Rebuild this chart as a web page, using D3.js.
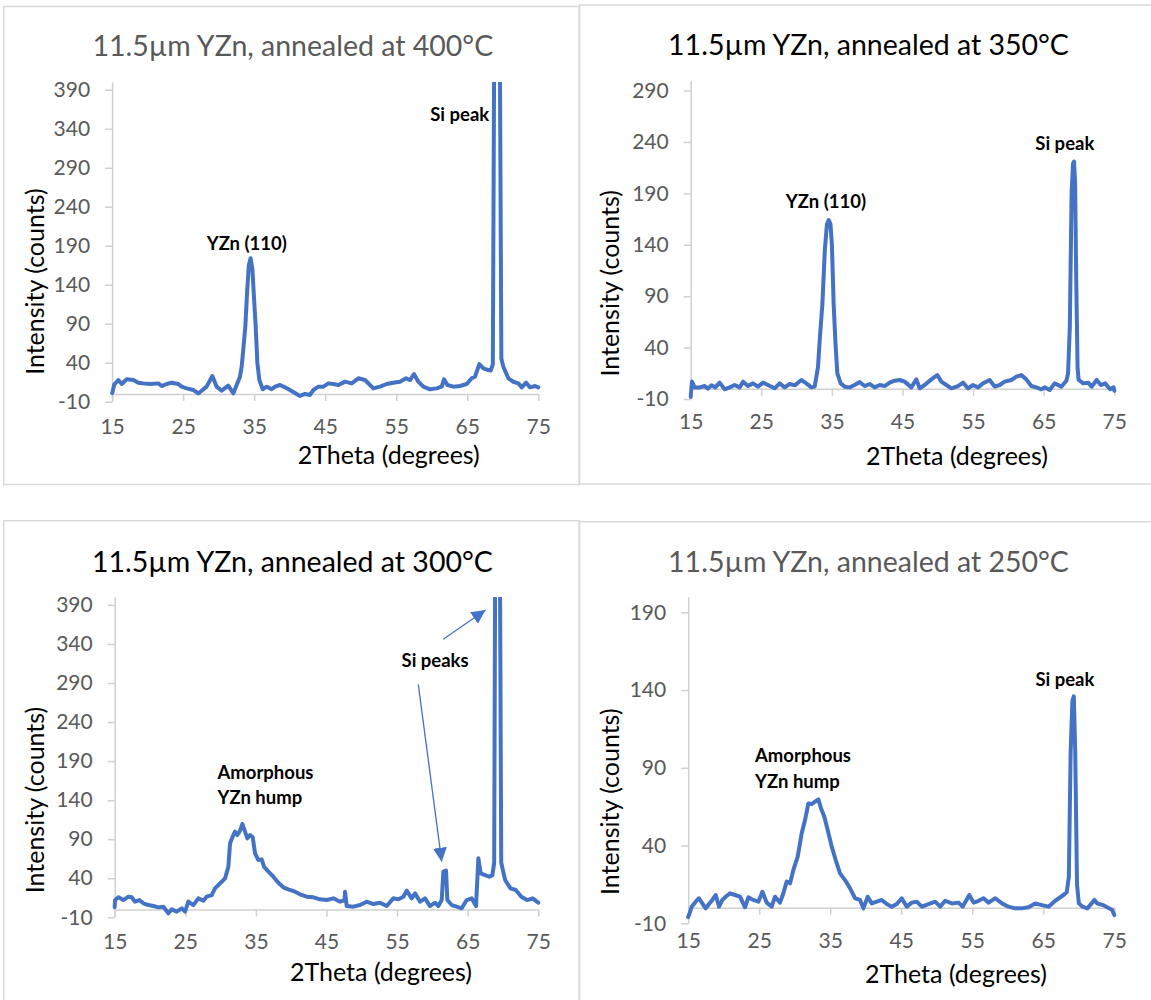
<!DOCTYPE html>
<html>
<head>
<meta charset="utf-8">
<script src="https://cdn.jsdelivr.net/npm/d3@7"></script>
<style>
  body { margin: 0; background: #fff; }
  text { font-family: Lato, "Liberation Sans", sans-serif; }
</style>
</head>
<body>
<script>
// axis ticks
var xTicks = [15, 25, 35, 45, 55, 65, 75];
var yTicks400 = [-10, 40, 90, 140, 190, 240, 290, 340, 390];
var yTicks300 = [-10, 40, 90, 140, 190, 240, 290];
var yTicks200 = [-10, 40, 90, 140, 190];

var titles = [
    '11.5µm YZn, annealed at 400°C',
    '11.5µm YZn, annealed at 350°C',
    '11.5µm YZn, annealed at 300°C',
    '11.5µm YZn, annealed at 250°C'
];
var xTitle = '2Theta (degrees)';
var yTitle = 'Intensity (counts)';

// scans: [2theta (degrees), intensity (counts)]
var scan400 = [
    [15.0, 1], [15.08, 3], [15.3, 12], [15.88, 17.8], [16.35, 12.7], [17.05, 18.7], [17.99, 17.8],
    [18.69, 14.4], [19.4, 13.5], [20.34, 12.7], [21.51, 13.5], [21.98, 10.1], [22.68, 12.7],
    [23.38, 14.4], [24.32, 12.7], [24.79, 9.3], [25.5, 7.1], [26.44, 5.0], [27.14, 0.7], [27.61, 4.1],
    [28.31, 9.3], [29.11, 23.0], [29.72, 9.3], [30.42, 4.1], [31.36, 10.6], [32.07, 0.7], [32.63, 13.5],
    [33.0, 22], [33.24, 35], [33.5, 60], [33.76, 87], [34.0, 130], [34.25, 165], [34.5, 174],
    [34.75, 160], [35.0, 120], [35.21, 87], [35.45, 40], [35.73, 17.8], [36.2, 5.9], [36.76, 9.3],
    [37.46, 5.9], [37.93, 9.3], [38.64, 11.4], [39.34, 8.4],
    [40.04, 5.0], [40.98, -0.1], [41.45, -2.6], [42.16, -0.1], [42.86, -1.3], [43.33, 5.0], [44.04, 9.3],
    [44.74, 9.3], [45.44, 13.5], [46.15, 12.7], [46.85, 11.4], [47.79, 15.7], [48.73, 13.5], [49.67, 20.0],
    [50.61, 17.8], [51.78, 7.1], [52.72, 9.3], [53.66, 12.7], [54.59, 14.4], [55.53, 15.7], [56.38, 20.0],
    [56.94, 17.8], [57.5, 25.5], [58.11, 15.7], [58.82, 9.3], [59.76, 5.9], [60.7, 7.1], [61.4, 9.3],
    [61.73, 18.7], [62.2, 11.4], [63.04, 9.3], [63.98, 10.1], [64.92, 12.7], [65.62, 20.0], [66.09, 22.1],
    [66.7, 38.3], [67.26, 32.8], [67.96, 30.6], [68.3, 30], [68.6, 38], [68.78, 420], [69.2, 1200],
    [69.6, 420], [69.8, 45], [70.08, 34.9], [70.78, 20], [71.49, 15.6], [72.2, 13.5], [72.67, 8.4],
    [73.28, 14.4], [73.84, 8.4], [74.55, 10.1], [75.0, 8.4]
];

var scan350 = [
    [15.0, -8], [15.18, 6.9], [15.56, 1.3], [16.27, 1.3], [16.98, 2.6], [17.45, 0.1], [17.92, 3.3],
    [18.49, 1.3], [19.1, 5.9], [19.81, -0.6], [20.52, 1.3], [21.23, 3.6], [21.94, 1.3], [22.41, 6.9],
    [23.12, 2.6], [23.82, 5.2], [24.53, 2.0], [25.24, 5.9], [25.95, 3.6], [26.89, 0.4], [27.6, 5.2],
    [28.31, 1.3], [29.02, 4.6], [29.73, 3.3], [30.67, 8.5], [31.38, 5.2], [32.09, 1.3], [32.56, 2.0],
    [33.03, 21], [33.3, 50], [33.65, 82], [34.0, 135], [34.3, 160], [34.55, 164], [34.8, 160],
    [35.0, 140], [35.25, 82], [35.5, 45], [35.77, 15], [36.24, 5.2], [36.81, 2.0], [37.52, 1.3],
    [38.22, 3.6], [38.93, 6.6], [39.64, 2.6],
    [40.35, 4.6], [41.06, 1.3], [41.76, 3.6], [42.47, 2.6], [43.18, 5.9], [43.89, 7.8], [44.6, 8.5],
    [45.31, 6.9], [46.25, 1.3], [46.96, 9.1], [47.43, 0.4], [48.14, 3.6], [49.08, 9.1], [49.93, 13.3],
    [50.5, 6.9], [51.21, 3.6], [51.92, 0.4], [52.86, 2.6], [53.57, 5.9], [54.28, 0.4], [54.99, 3.6],
    [55.7, 1.3], [56.4, 5.2], [57.35, 8.5], [58.06, 2.0], [58.76, 3.6], [59.47, 6.9], [60.42, 8.5],
    [61.13, 11.7], [61.83, 13.3], [62.54, 9.1], [63.25, 2.6], [63.96, 1.3], [64.67, -0.6], [65.14, 1.3],
    [65.85, -1.2], [66.55, 5.2], [67.5, 2.0], [68.21, 7.8], [68.45, 15], [68.7, 60], [68.95, 190],
    [69.15, 219], [69.3, 221], [69.45, 200], [69.6, 110], [69.8, 20], [69.95, 8.5], [70.6, 5.2], [71.3, 5.9],
    [71.8, 2.0], [72.5, 8.5], [73.1, 3.6], [73.7, 5.2], [74.4, -0.6], [74.9, 1.4], [75.0, -1.9]
];

var scan300 = [
    [15.0, 3], [15.05, 12.1], [15.52, 15.6], [16.23, 12.1], [16.94, 16.4], [17.41, 15.6], [17.88, 10.0],
    [18.49, 12.1], [19.06, 7.9], [19.77, 5.7], [20.48, 4.4], [21.19, 2.7], [21.89, 3.6], [22.6, -4.9],
    [23.07, 0.2], [23.78, -2.8], [24.49, 1.5], [24.96, -2.8], [25.43, 10.0], [26.14, 5.7], [26.85, 14.3],
    [27.56, 11.3], [28.03, 16.4], [28.74, 18.5], [29.21, 27.1], [29.92, 33.5], [30.63, 39.9],
    [31.1, 54.8], [31.34, 84.7], [31.71, 93.2], [32.04, 99.6], [32.37, 95.3], [32.75, 100.9],
    [33.08, 109.5], [33.46, 99.6], [33.79, 91.1], [34.17, 95.3], [34.55, 92.4], [34.88, 71.9],
    [35.35, 63.3], [35.82, 64.2], [36.15, 54.8], [36.77, 48.4], [37.47, 42.0], [38.18, 34.3],
    [38.89, 28.4], [39.6, 25.8], [40.54, 22.8], [41.25, 19.4], [42.2, 16.4], [43.14, 15.6], [44.08, 13.0],
    [45.03, 12.1], [45.97, 14.3], [46.92, 10.0], [47.55, 12], [47.63, 22.8], [47.86, 4.4], [48.81, 3.6],
    [49.75, 5.7], [50.69, 10.0], [51.64, 7.0], [52.58, 8.7], [53.53, 4.4], [54.47, 14.3], [55.18, 13.0],
    [55.89, 16.4], [56.36, 24.1], [57.07, 14.3], [57.54, 20.7], [58.25, 10.0], [58.96, 14.3],
    [59.66, 4.4], [60.37, 8.7], [60.84, 4.4], [61.32, 12.1], [61.55, 48.4], [61.93, 49.7], [62.12, 12.1],
    [62.73, 5.7], [63.44, 3.6], [64.15, 1.5], [64.86, 12.1], [65.57, 14.3], [66.18, 4.4], [66.51, 65.5],
    [66.84, 46.3], [67.45, 44.1], [68.07, 42.0], [68.5, 44], [68.75, 60], [68.88, 420], [69.2, 1200],
    [69.58, 420], [69.75, 60], [70.3, 37.8], [71.06, 27], [71.8, 25], [72.6, 16.4], [73.4, 12.1],
    [74.2, 14.3], [75.0, 8.7]
];

var scan250 = [
    [15.0, -6], [15.11, -4.7], [15.49, 0.7], [16.05, 3.9], [16.52, 6.1], [16.99, 2.8], [17.46, -0.4],
    [17.93, 2.4], [18.4, 5.0], [18.87, 8.2], [19.34, 0.7], [19.81, 5.0], [20.28, 7.1], [20.89, 9.3],
    [21.59, 8.2], [22.3, 7.1], [23.0, 0.3], [23.47, 6.7], [24.17, 5.0], [24.88, 3.9], [25.45, 10.3],
    [26.05, 3.3], [26.76, 0.7], [27.23, 7.1], [27.93, 3.3], [28.4, 9.3], [28.87, 16.8], [29.34, 15.7],
    [29.81, 24.3], [30.42, 32.9], [30.98, 47.9], [31.45, 56.4], [31.92, 67.1], [32.39, 66.7],
    [32.86, 68.2], [33.33, 69.7], [33.71, 63.9], [34.17, 58.6], [34.64, 50.0], [35.21, 39.3],
    [35.77, 30.7], [36.38, 22.1], [37.08, 17.8], [37.79, 12.5], [38.5, 6.1], [39.2, 5.0], [39.67, -0.4],
    [40.28, 7.1], [40.85, 2.8], [41.55, 3.9], [42.26, 5.0], [42.96, 2.4], [43.67, 0.7], [44.37, 2.4],
    [45.07, 6.1], [45.78, 0.7], [46.48, 3.3], [47.19, 3.9], [47.9, 0.7], [48.84, 2.4], [49.78, 3.9],
    [50.48, 0.7], [51.19, 4.5], [52.13, 2.8], [53.07, 3.3], [53.64, 0.7], [54.58, 8.2], [55.19, 3.3],
    [55.89, 4.5], [56.59, 6.1], [57.3, 3.3], [58.24, 6.1], [59.18, 2.8], [60.09, 0.7], [61.03, -0.4],
    [61.97, -0.4], [62.91, 0.3], [63.86, 2.8], [64.8, 1.7], [65.74, 0.7], [66.68, 4.5], [67.85, 8.2],
    [68.3, 10], [68.6, 20], [68.85, 100], [69.1, 133], [69.3, 136], [69.5, 100], [69.75, 15], [70.0, 3],
    [70.5, 0.7], [71.2, -0.4], [71.6, 1.7], [72.2, 5.0], [72.6, 2.8], [73.4, 1.7], [74.7, -1.5], [75.0, -4.7]
];

// annotation texts
var notes400 = ['YZn (110)', 'Si peak'];
var notes350 = ['YZn (110)', 'Si peak'];
var notes300 = ['Si peaks', 'Amorphous', 'YZn hump'];
var notes250 = ['Si peak', 'Amorphous', 'YZn hump'];

var BLUE = '#4472C4';
var AXIS = '#D0D0D0';
var GREY = '#595959';

// page layout of the four panels (pixels); note / arrow positions are in data units
var panels = [
    {data: scan400, title: titles[0], titleColor: GREY, yTicks: yTicks400, yMax: 400,
     plot: {left: 112.1, right: 538.3, top: 82, bottom: 401.7},
     frame: [3.7, 6.5, 575.7, 478], titleAt: [292.8, 56], xTitleAt: [388.8, 464], yTitleAt: [35, 281.6],
     notes: [{text: notes400[0], at: [33.96, 193.1], anchor: 'middle'},
             {text: notes400[1], at: [63.94, 358.5], anchor: 'middle'}],
     arrows: []},
    {data: scan350, title: titles[1], titleColor: '#000', yTicks: yTicks300, yMax: 300,
     plot: {left: 690.7, right: 1114.3, top: 80.3, bottom: 399},
     frame: [579.4, 5, 580, 479], titleAt: [868.5, 55], xTitleAt: [957, 465], yTitleAt: [609.9, 283.3],
     notes: [{text: notes350[0], at: [34.16, 181.9], anchor: 'middle'},
             {text: notes350[1], at: [67.99, 238.1], anchor: 'middle'}],
     arrows: []},
    {data: scan300, title: titles[2], titleColor: '#000', yTicks: yTicks400, yMax: 400,
     plot: {left: 114.7, right: 538.3, top: 597.1, bottom: 917.3},
     frame: [3.7, 520.7, 575.7, 490], titleAt: [292.4, 571.7], xTitleAt: [381, 980.7], yTitleAt: [35.1, 800],
     notes: [{text: notes300[0], at: [60.38, 319.4], anchor: 'middle'},
             {text: notes300[1], at: [29.56, 176.0], anchor: 'start'},
             {text: notes300[2], at: [29.56, 143.6], anchor: 'start'}],
     arrows: [{from: [61.54, 346.0], to: [67.52, 383.5]},
              {from: [58.0, 288.3], to: [61.32, 61.2]}]},
    {data: scan250, title: titles[3], titleColor: GREY, yTicks: yTicks200, yMax: 200,
     plot: {left: 688.2, right: 1114.3, top: 596.8, bottom: 923.3},
     frame: [579.4, 521.7, 580, 490], titleAt: [868.5, 571.7], xTitleAt: [956, 983.3], yTitleAt: [609.9, 801.7],
     notes: [{text: notes250[0], at: [68.04, 147.1], anchor: 'middle'},
             {text: notes250[1], at: [24.41, 97.6], anchor: 'start'},
             {text: notes250[2], at: [24.41, 81.1], anchor: 'start'}],
     arrows: []}
];

var svg = d3.select('body')
    .append('svg')
    .attr('width', 1151)
    .attr('height', 1000);

var defs = svg.append('defs');

defs.append('marker')
    .attr('id', 'arrowhead')
    .attr('viewBox', '0 0 10 10')
    .attr('refX', 10)
    .attr('refY', 5)
    .attr('markerWidth', 14)
    .attr('markerHeight', 14)
    .attr('markerUnits', 'userSpaceOnUse')
    .attr('orient', 'auto')
    .append('path')
    .attr('d', 'M0,0L10,5L0,10z')
    .attr('fill', BLUE);

panels.forEach(function(p, i) {
    var g = svg.append('g');

    g.append('rect')
        .attr('x', p.frame[0])
        .attr('y', p.frame[1])
        .attr('width', p.frame[2])
        .attr('height', p.frame[3])
        .attr('fill', 'none')
        .attr('stroke', '#D9D9D9')
        .attr('stroke-width', 1.5);

    var x = d3.scaleLinear()
        .domain([15, 75])
        .range([p.plot.left, p.plot.right]);

    var y = d3.scaleLinear()
        .domain([-10, p.yMax])
        .range([p.plot.bottom, p.plot.top]);

    // y axis on the left edge
    var yAxis = g.append('g')
        .attr('transform', 'translate(' + x(15) + ',0)')
        .call(d3.axisLeft(y).tickValues(p.yTicks).tickFormat(String).tickSize(7).tickSizeOuter(0).tickPadding(15));

    // x axis crosses at zero
    var xAxis = g.append('g')
        .attr('transform', 'translate(0,' + y(0) + ')')
        .call(d3.axisBottom(x).tickValues(xTicks).tickFormat(String).tickSize(7).tickSizeOuter(0).tickPadding(18));

    [yAxis, xAxis].forEach(function(a) {
        a.select('.domain').attr('stroke', AXIS).attr('stroke-width', 1.5);
        a.selectAll('.tick line').attr('stroke', AXIS).attr('stroke-width', 1.5);
        a.selectAll('.tick text')
            .attr('fill', GREY)
            .style('font-size', '21px')
            .style('font-family', 'Lato, sans-serif');
    });

    defs.append('clipPath')
        .attr('id', 'clip' + i)
        .append('rect')
        .attr('x', p.plot.left - 4)
        .attr('y', p.plot.top)
        .attr('width', p.plot.right - p.plot.left + 8)
        .attr('height', p.plot.bottom - p.plot.top + 6);

    var line = d3.line()
        .x(function(d) { return x(d[0]); })
        .y(function(d) { return y(d[1]); });

    g.append('path')
        .datum(p.data)
        .attr('clip-path', 'url(#clip' + i + ')')
        .attr('d', line)
        .attr('fill', 'none')
        .attr('stroke', BLUE)
        .attr('stroke-width', 4)
        .attr('stroke-linejoin', 'round')
        .attr('stroke-linecap', 'round');

    g.append('text')
        .attr('x', p.titleAt[0])
        .attr('y', p.titleAt[1])
        .attr('text-anchor', 'middle')
        .attr('fill', p.titleColor)
        .style('font-size', '28.5px')
        .text(p.title);

    g.append('text')
        .attr('x', p.xTitleAt[0])
        .attr('y', p.xTitleAt[1])
        .attr('text-anchor', 'middle')
        .attr('fill', '#000')
        .style('font-size', '25px')
        .text(xTitle);

    g.append('text')
        .attr('transform', 'translate(' + p.yTitleAt[0] + ',' + p.yTitleAt[1] + ') rotate(-90)')
        .attr('text-anchor', 'middle')
        .attr('dy', '0.35em')
        .attr('fill', '#000')
        .style('font-size', '25px')
        .text(yTitle);

    g.selectAll('text.note')
        .data(p.notes)
        .enter().append('text')
        .attr('class', 'note')
        .attr('x', function(d) { return x(d.at[0]); })
        .attr('y', function(d) { return y(d.at[1]); })
        .attr('dy', '0.35em')
        .attr('text-anchor', function(d) { return d.anchor; })
        .attr('fill', '#000')
        .style('font-size', '18.5px')
        .style('font-weight', 'bold')
        .text(function(d) { return d.text; });

    g.selectAll('line.arrow')
        .data(p.arrows)
        .enter().append('line')
        .attr('class', 'arrow')
        .attr('x1', function(d) { return x(d.from[0]); })
        .attr('y1', function(d) { return y(d.from[1]); })
        .attr('x2', function(d) { return x(d.to[0]); })
        .attr('y2', function(d) { return y(d.to[1]); })
        .attr('stroke', BLUE)
        .attr('stroke-width', 1.3)
        .attr('marker-end', 'url(#arrowhead)');
});
</script>
</body>
</html>
